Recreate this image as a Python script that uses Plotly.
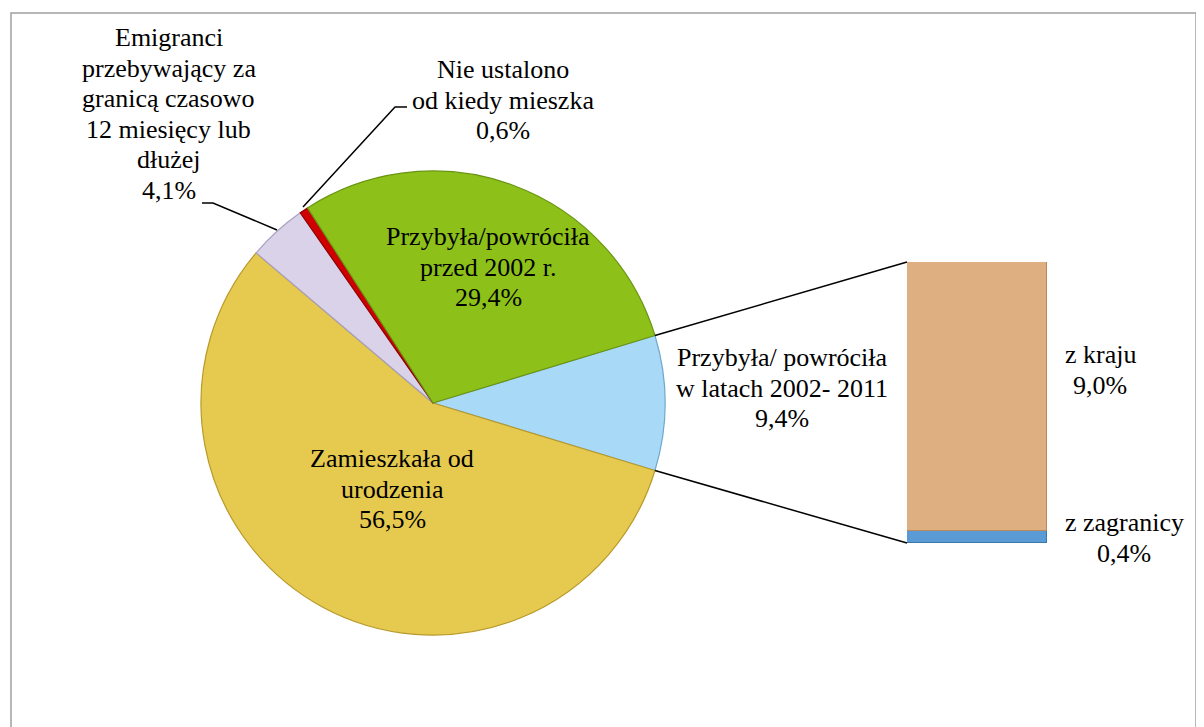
import math
import plotly.graph_objects as go

W, H = 1204, 727
OFF = 8  # page body margin offset

# ---- data ----
pie_names = [
    "Przybyła/ powróciła w latach 2002- 2011",
    "Zamieszkała od urodzenia",
    "Emigranci przebywający za granicą czasowo 12 miesięcy lub dłużej",
    "Nie ustalono od kiedy mieszka",
    "Przybyła/powróciła przed 2002 r.",
]
pie_values = [9.4, 56.5, 4.1, 0.6, 29.4]
pie_colors = ["#A8D9F6", "#E6C94F", "#D9D2E9", "#D00000", "#8DC11A"]
pie_edges = ["#6FA8CC", "#B89A2A", "#A9A0BF", "#900000", "#6A9410"]

bar_names = ["z zagranicy", "z kraju"]
bar_values = [0.4, 9.0]
bar_colors = ["#5B9BD5", "#DEAF80"]
bar_edges = ["#3C78B0", "#B88A5C"]

label_lines = [
    ["Przybyła/ powróciła", "w latach 2002- 2011"],
    ["Zamieszkała od", "urodzenia"],
    ["Emigranci", "przebywający za", "granicą czasowo", "12 miesięcy lub", "dłużej"],
    ["Nie ustalono", "od kiedy mieszka"],
    ["Przybyła/powróciła", "przed 2002 r."],
]
bar_label_lines = [["z zagranicy"], ["z kraju"]]

def pct(v):
    return f"{v:.1f}".replace(".", ",") + "%"

FONT = "Liberation Serif"

# ---- layout geometry (screen pixels) ----
cx, cy, R = 433, 403, 232
bar_x0, bar_x1, bar_top, bar_bot = 907, 1047, 262, 543

def px(x):
    return (x - OFF) / W

def py(y):
    return 1 - (y - OFF) / H

rotation = 90 - pie_values[0] / sum(pie_values) * 360 / 2

fig = go.Figure()
fig.add_trace(go.Pie(
    labels=pie_names, values=pie_values, sort=False, direction="clockwise",
    rotation=rotation, textinfo="none", hoverinfo="label+value",
    marker=dict(colors=pie_colors, line=dict(color=pie_edges, width=1.2)),
    domain=dict(x=[px(cx - R), px(cx + R)], y=[py(cy + R), py(cy - R)]),
    showlegend=False,
))

for name, val, col, edge in zip(bar_names, bar_values, bar_colors, bar_edges):
    fig.add_trace(go.Bar(
        x=[0], y=[val], name=name, width=1,
        marker=dict(color=col, line=dict(color=edge, width=1.2)),
        xaxis="x", yaxis="y", showlegend=False,
    ))

fig.update_layout(
    width=W, height=H, margin=dict(l=0, r=0, t=0, b=0),
    paper_bgcolor="white", plot_bgcolor="rgba(0,0,0,0)",
    barmode="stack", bargap=0,
    xaxis=dict(domain=[px(bar_x0), px(bar_x1)], range=[-0.5, 0.5], visible=False, fixedrange=True),
    yaxis=dict(domain=[py(bar_bot), py(bar_top)], range=[0, sum(bar_values)], visible=False, fixedrange=True),
    font=dict(family=FONT, color="black", size=26),
)

# frame
fig.add_shape(type="rect", xref="paper", yref="paper",
              x0=px(11), x1=px(1196), y0=py(760), y1=py(13),
              line=dict(color="#A0A0A0", width=1.5))

# connector lines from the split slice to the bar
tot = sum(pie_values)
a0 = math.radians(rotation)
a1 = math.radians(rotation + pie_values[0] / tot * 360)
p0 = (cx + R * math.sin(a0), cy - R * math.cos(a0))
p1 = (cx + R * math.sin(a1), cy - R * math.cos(a1))
for (sx, sy), (ex, ey) in [(p0, (bar_x0, bar_top)), (p1, (bar_x0, bar_bot))]:
    fig.add_shape(type="line", xref="paper", yref="paper",
                  x0=px(sx), y0=py(sy), x1=px(ex), y1=py(ey),
                  line=dict(color="black", width=1.5))

# leader lines
def path(points):
    return "M " + " L ".join(f"{px(x)},{py(y)}" for x, y in points)

fig.add_shape(type="path", xref="paper", yref="paper",
              path=path([(202, 203), (213, 203), (277, 230)]),
              line=dict(color="black", width=1.5))
fig.add_shape(type="path", xref="paper", yref="paper",
              path=path([(303, 207), (395, 107), (407, 107)]),
              line=dict(color="black", width=1.5))

# text labels
FS = 26
LS = 30.5

def add_block(lines, x, ycenter):
    n = len(lines)
    for i, t in enumerate(lines):
        y = ycenter + (i - (n - 1) / 2) * LS
        fig.add_annotation(x=px(x), y=py(y), xref="paper", yref="paper",
                           text=t, showarrow=False, xanchor="center", yanchor="middle",
                           font=dict(size=FS, family=FONT, color="black"))

pie_label_pos = [(782, 388), (392, 489), (169, 114), (503, 100), (488, 267)]
for lines, v, (x, y) in zip(label_lines, pie_values, pie_label_pos):
    add_block(lines + [pct(v)], x, y)

bar_label_pos = [(1124, 538), (1100, 370)]
for lines, v, (x, y) in zip(bar_label_lines, bar_values, bar_label_pos):
    add_block(lines + [pct(v)], x, y)

fig.write_html("out.html")
